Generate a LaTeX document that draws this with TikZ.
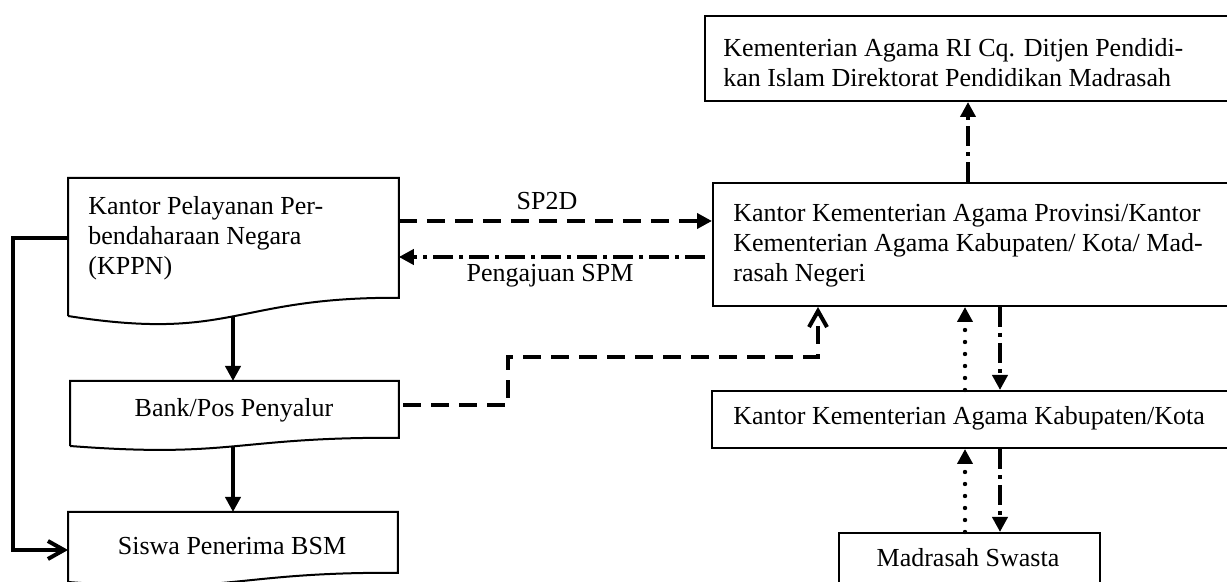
\documentclass[tikz,border=0pt]{standalone}
\usepackage{fontspec}
\setmainfont{Liberation Serif}
\usetikzlibrary{arrows.meta,calc}
\begin{document}
\begin{tikzpicture}[x=0.5pt,y=-0.5pt,
  box/.style={draw,line width=1pt,inner sep=0,anchor=north west},
  ghost/.style={inner sep=0,anchor=north west},
  txt/.style={inner sep=0,font=\fontsize{13pt}{15pt}\selectfont},
  conn/.style={line width=2pt},
  tri/.style={-{Triangle[length=7.5pt,width=7.5pt]}},
  barb/.style={-{Straight Barb[length=8pt,width=9pt]}},
  dashedl/.style={dash pattern=on 9pt off 5pt},
  dashdot/.style={dash pattern=on 10pt off 3pt on 2pt off 3pt},
  dotl/.style={line width=2.2pt,line cap=round,dash pattern=on 0pt off 6pt},
  docline/.style={line width=1pt},
]
\path[use as bounding box] (0,0) rectangle (1227,582);
\clip (0,0) rectangle (1227,582);

% left column (document shapes)
\node[ghost,minimum width=165pt,minimum height=59.5pt] (kppn) at (68,178) {};
\node[ghost,minimum width=164pt,minimum height=28pt] (bank) at (70,381) {};
\node[ghost,minimum width=164.5pt,minimum height=30pt] (siswa) at (68,512) {};
\draw[docline] (68,316) -- (kppn.north west) -- (kppn.north east) -- (kppn.south east)
  .. controls (233,297) and (233,342) .. (68,316);
\draw[docline] (70,446) -- (bank.north west) -- (bank.north east) -- (bank.south east)
  .. controls (234,437) and (234,458.5) .. (70,446);
\draw[docline] (68,582) -- (siswa.north west) -- (siswa.north east) -- (siswa.south east)
  .. controls (232.5,572) and (232.5,595) .. (68,582);

% right column
\node[box,minimum width=280pt,minimum height=42.5pt] (top) at (704,15) {};
\node[box,minimum width=280pt,minimum height=61.5pt] (kkap) at (712,182) {};
\node[box,minimum width=280pt,minimum height=28.5pt] (kab) at (711,390) {};
\node[box,minimum width=130.5pt,minimum height=40pt] (mad) at (838,532) {};

% texts (multi-line nodes: base = last line)
\node[txt,anchor=base west,align=left] (tkppn) at (88,275)
  {Kantor Pelayanan Per-\\bendaharaan Negara\\(KPPN)};
\node[txt,anchor=base] (tbank) at (234,417) {Bank/Pos Penyalur};
\node[txt,anchor=base] (tsiswa) at (232,555) {Siswa Penerima BSM};
\node[txt,anchor=base west,align=left] (ttop) at (723,87)
  {Kementerian Agama RI Cq. Ditjen Pendidi-\\kan Islam Direktorat Pendidikan Madrasah};
\node[txt,anchor=base west,align=left] (tkkap) at (733,282)
  {Kantor Kementerian Agama Provinsi/Kantor\\Kementerian Agama Kabupaten/ Kota/ Mad-\\rasah Negeri};
\node[txt,anchor=base west] (tkab) at (733,425) {Kantor Kementerian Agama Kabupaten/Kota};
\node[txt,anchor=base] (tmad) at (968,567) {Madrasah Swasta};
\node[txt,anchor=base] (lsp2d) at (547,210) {SP2D};
\node[txt,anchor=base] (lspm) at (550,282) {Pengajuan SPM};

% connectors left
\draw[conn,tri] (233,316) -- (bank.north -| 233,0);
\draw[conn,tri] (233,446) -- (siswa.north -| 233,0);
\draw[conn,barb] (kppn.west |- 0,238) -- (13,238) |- (siswa.west |- 0,550);

% horizontal connectors
\draw[conn,dashedl,tri] (kppn.east |- 0,221) -- (kkap.west |- 0,221);
\draw[conn,dashdot,tri] (705,257) -- (kppn.east |- 0,257);
\draw[conn,dashedl,barb] (403,405) -| (508,357) -| (kkap.south -| 818,0);

% vertical connectors right
\draw[conn,dashdot,tri] (kkap.north -| 968,0) -- (top.south -| 968,0);
\draw[dotl,tri] (kab.north -| 965,0) -- (kkap.south -| 965,0);
\draw[conn,dashdot,tri] (kkap.south -| 1000,0) -- (kab.north -| 1000,0);
\draw[dotl,tri] (mad.north -| 965,0) -- (kab.south -| 965,0);
\draw[conn,dashdot,tri] (kab.south -| 1000,0) -- (mad.north -| 1000,0);
\end{tikzpicture}
\end{document}
